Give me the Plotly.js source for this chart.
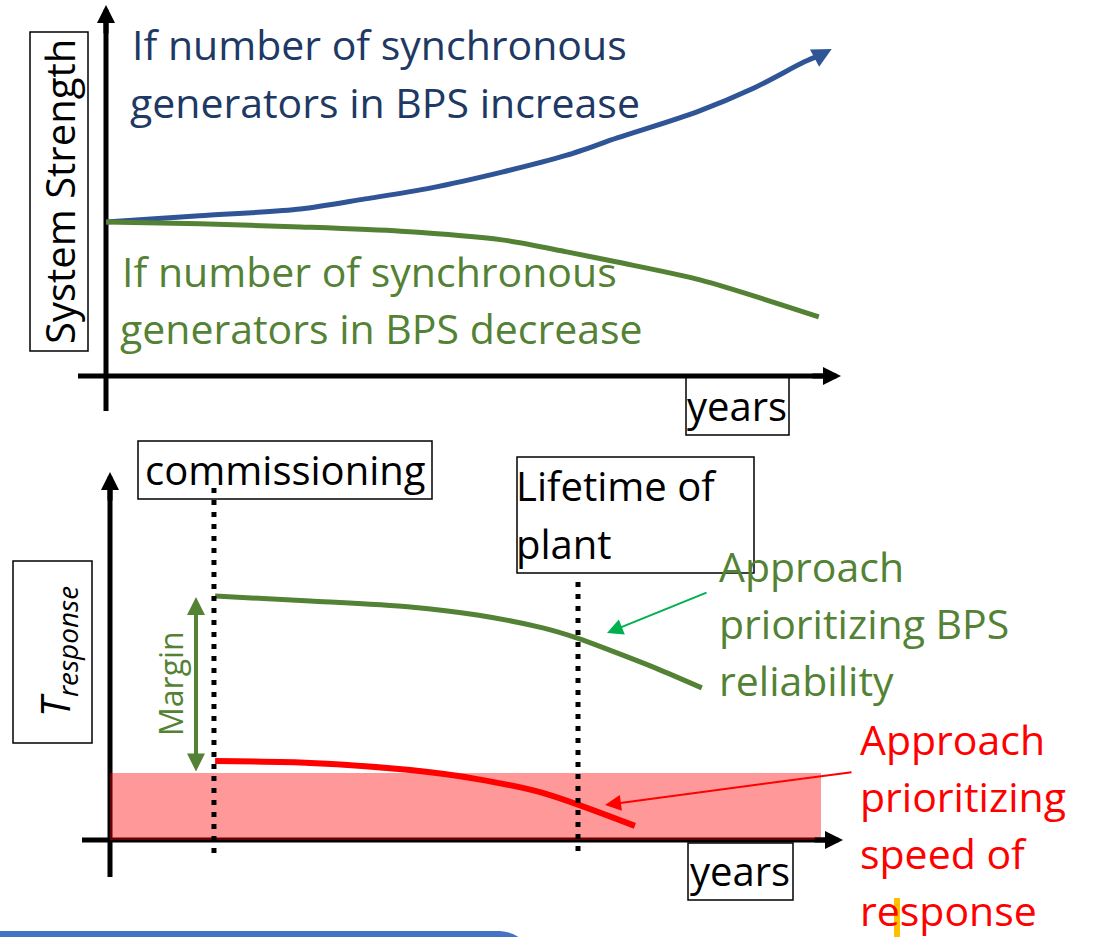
<!DOCTYPE html>
<html>
<head>
<meta charset="utf-8">
<script src="https://cdn.plot.ly/plotly-3.0.1.min.js"></script>
<style>html,body{margin:0;padding:0;background:#fff;}#chart{width:1099px;height:937px;}</style>
</head>
<body>
<div id="chart"></div>
<script>
// ---------- data (conceptual) ----------
// Top panel: system strength vs years
const topYears_inc = [0, 1.3, 2.7, 3.6, 4.5, 5.5, 6.4, 7.1, 8.2, 9.0, 9.7, 9.92];
const strength_inc = [5.0, 5.2, 5.42, 5.75, 6.1, 6.62, 7.17, 7.73, 8.57, 9.35, 10.2, 10.42];
const topYears_dec = [0, 1.3, 2.7, 4.1, 5.5, 6.4, 7.1, 8.25, 9.9];
const strength_dec = [5.0, 4.94, 4.84, 4.7, 4.42, 4.03, 3.7, 3.12, 1.92];
// Bottom panel: T_response vs years
const botYears_rel = [1.46, 2.78, 4.17, 5.1, 6.01, 6.49, 6.94, 7.58, 8.22];
const tresp_rel    = [8.13, 7.97, 7.77, 7.5, 7.07, 6.73, 6.33, 5.73, 5.07];
const botYears_spd = [1.46, 2.78, 4.17, 5.1, 6.01, 7.29];
const tresp_spd    = [2.63, 2.57, 2.33, 2.03, 1.57, 0.47];
const bandYears = [0, 9.875];
const bandLimit = [2.23, 2.23];
const eventYears = [1.444, 6.5];   // commissioning, lifetime of plant
const eventLabels = ["commissioning", "Lifetime of", "plant"];

// ---------- helpers (layout positions in page pixels) ----------
const W = 1099, H = 937;
const px = x => x / W;
const py = y => 1 - y / H;
const FONT = "Open Sans";
const FS = 41;
const BLUE_LINE = "#2F5597", BLUE_TXT = "#203864", GREEN = "#548235", RED = "#FF0000";

const traces = [
  {x: bandYears, y: bandLimit, xaxis: "x2", yaxis: "y2", mode: "lines",
   line: {width: 0}, fill: "tozeroy", fillcolor: "rgba(255,0,0,0.4)", hoverinfo: "skip"},
  {x: topYears_inc, y: strength_inc, xaxis: "x", yaxis: "y", mode: "lines",
   line: {color: BLUE_LINE, width: 5, shape: "spline", smoothing: 0.8}},
  {x: topYears_dec, y: strength_dec, xaxis: "x", yaxis: "y", mode: "lines",
   line: {color: GREEN, width: 5, shape: "spline", smoothing: 0.8}},
  {x: botYears_rel, y: tresp_rel, xaxis: "x2", yaxis: "y2", mode: "lines",
   line: {color: GREEN, width: 5, shape: "spline", smoothing: 0.8}},
  {x: botYears_spd, y: tresp_spd, xaxis: "x2", yaxis: "y2", mode: "lines",
   line: {color: RED, width: 6, shape: "spline", smoothing: 0.8}}
];

function pline(x0, y0, x1, y1, color, width, layer) {
  return {type: "line", xref: "paper", yref: "paper", x0: px(x0), y0: py(y0), x1: px(x1), y1: py(y1),
          line: {color: color, width: width}, layer: layer || "below"};
}
function prect(x0, y0, x1, y1, color, width, fill, layer) {
  return {type: "rect", xref: "paper", yref: "paper", x0: px(x0), y0: py(y0), x1: px(x1), y1: py(y1),
          line: {color: color, width: width}, fillcolor: fill || "rgba(0,0,0,0)", layer: layer || "above"};
}

const shapes = [
  // axes (drawn below the pink band)
  pline(106, 18, 106, 411, "black", 5),
  pline(78, 376, 828, 376, "black", 5),
  pline(110, 485, 110, 877, "black", 5),
  pline(82, 840, 830, 840, "black", 5),
  // boxes
  prect(30, 32, 88, 351, "black", 1.5),
  prect(686, 377, 789, 435, "black", 1.5),
  prect(138, 441, 432, 499, "black", 1.5),
  prect(517, 457, 754, 573, "black", 1.5),
  prect(13, 561, 92, 743, "black", 1.5),
  prect(688, 843, 793, 900, "black", 1.5),
  // yellow cursor mark
  prect(894, 898, 900, 937, "rgba(0,0,0,0)", 0, "#FFC000", "below"),
  // blue box edge at bottom
  {type: "path", xref: "paper", yref: "paper",
   path: `M0,${py(931)} L${px(500)},${py(931)} Q${px(514)},${py(932)} ${px(522)},${py(940)} L0,${py(940)} Z`,
   fillcolor: "#4472C4", line: {width: 0}, layer: "above"}
];
// event dotted lines
const evTop = [11.73, 8.6], evBot = [-0.43, -0.6];
eventYears.forEach((yr, i) => {
  shapes.push({type: "line", xref: "x2", yref: "y2", x0: yr, x1: yr, y0: evTop[i], y1: evBot[i],
               line: {color: "black", width: 5, dash: "5px,7px"}, layer: "above"});
});

function txt(text, x, y, size, color, opts) {
  return Object.assign({text: text, xref: "paper", yref: "paper", x: px(x), y: py(y),
    xanchor: "left", yanchor: "middle", showarrow: false,
    font: {family: FONT, size: size, color: color}}, opts || {});
}
function head(xTip, yTip, dx, dy, color, w, size) {
  return {xref: "paper", yref: "paper", x: px(xTip), y: py(yTip), ax: dx, ay: dy,
    showarrow: true, arrowhead: 2, arrowwidth: w, arrowsize: size, arrowcolor: color, text: ""};
}

const annotations = [
  txt("If number of synchronous", 130, 44, FS, BLUE_TXT),
  txt("generators in BPS increase", 128, 102, FS, BLUE_TXT),
  txt("If number of synchronous", 120, 271, FS, GREEN),
  txt("generators in BPS decrease", 118, 328, FS, GREEN),
  txt("System Strength", 60, 192, 40, "black", {xanchor: "center", textangle: -90}),
  txt("years", 737, 405, 40, "black", {xanchor: "center"}),
  txt(eventLabels[0], 285, 469, 40, "black", {xanchor: "center"}),
  txt(eventLabels[1], 514, 486, 40, "black"),
  txt(eventLabels[2], 514, 543, 40, "black"),
  txt("<i>T</i><sub><i>response</i></sub>", 56, 652, 40, "black", {xanchor: "center", textangle: -90}),
  txt("Margin", 170, 684, 32, GREEN, {xanchor: "center", textangle: -90}),
  txt("Approach", 717, 566, FS, GREEN),
  txt("prioritizing BPS", 717, 623, FS, GREEN),
  txt("reliability", 717, 680, FS, GREEN),
  txt("Approach", 858, 739, FS, RED),
  txt("prioritizing", 858, 796, FS, RED),
  txt("speed of", 858, 853, FS, RED),
  txt("response", 858, 910, FS, RED),
  txt("years", 740, 870, 40, "black", {xanchor: "center"}),
  // axis arrowheads
  head(106, 5, 0, 30, "black", 5, 0.72),
  head(841, 376, -30, 0, "black", 5, 0.72),
  head(110, 472, 0, 30, "black", 5, 0.72),
  head(843, 840, -30, 0, "black", 5, 0.72),
  // margin double arrow
  {xref: "paper", yref: "paper", x: px(196), y: py(597), ax: 0, ay: 176, showarrow: true,
   arrowhead: 2, startarrowhead: 2, arrowside: "end+start", arrowwidth: 4, arrowsize: 0.9,
   startarrowsize: 0.9, arrowcolor: GREEN, text: ""},
  // pointer arrows
  head(607, 633, 101, -41, "#00B050", 2, 1.6),
  head(605, 805, 248, -33, RED, 2, 1.6),
  // blue curve arrow tip
  {xref: "x", yref: "y", axref: "x", ayref: "y",
   x: 10.08, y: 10.62, ax: topYears_inc[topYears_inc.length - 1], ay: strength_inc[strength_inc.length - 1],
   showarrow: true, arrowhead: 2, arrowwidth: 3, arrowsize: 1.3, arrowcolor: BLUE_LINE, text: ""}
];

const hidden = {visible: false, showgrid: false, zeroline: false, fixedrange: true};
const layout = {
  width: W, height: H, margin: {l: 0, r: 0, t: 0, b: 0, pad: 0},
  paper_bgcolor: "white", plot_bgcolor: "rgba(0,0,0,0)", showlegend: false,
  xaxis: Object.assign({domain: [0, 1], anchor: "y", range: [-1.4722, 13.7917]}, hidden),
  yaxis: Object.assign({domain: [0.53, 1], anchor: "x", range: [-2.0906, 12.2078]}, hidden),
  xaxis2: Object.assign({domain: [0, 1], anchor: "y2", range: [-1.5278, 13.7361]}, hidden),
  yaxis2: Object.assign({domain: [0, 0.53], anchor: "x2", range: [-3.2333, 13.3203]}, hidden),
  shapes: shapes, annotations: annotations
};
Plotly.newPlot("chart", traces, layout, {staticPlot: true, displayModeBar: false});
</script>
</body>
</html>
